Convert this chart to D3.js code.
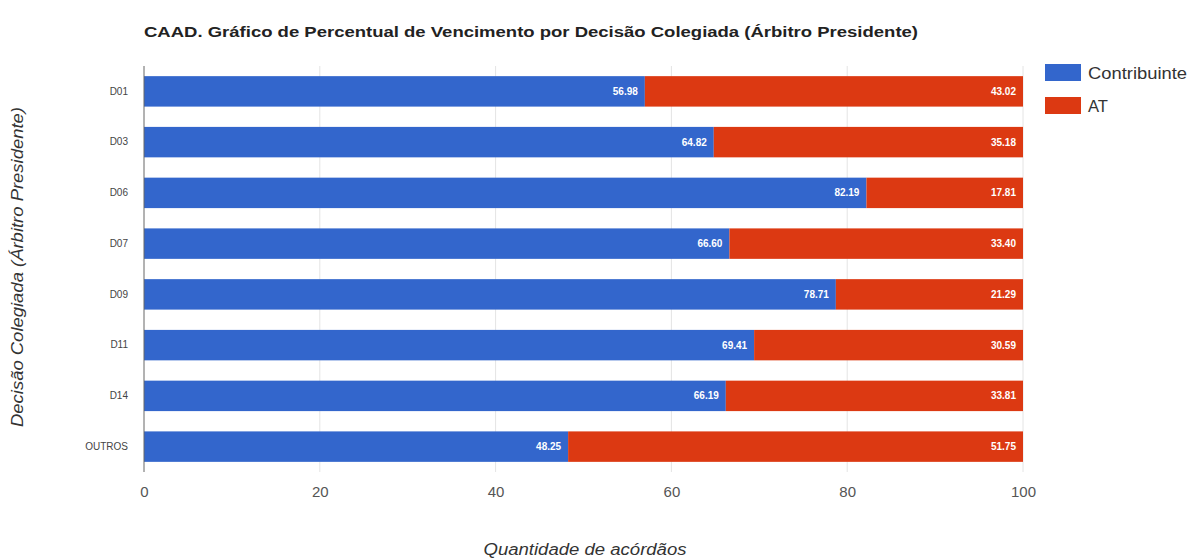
<!DOCTYPE html>
<html>
<head>
<meta charset="utf-8">
<script src="https://cdn.jsdelivr.net/npm/d3@7"></script>
<style>
  html, body { margin: 0; padding: 0; background: #fff; }
  svg { display: block; font-family: Arial, "Liberation Sans", sans-serif; }
</style>
</head>
<body>
<svg id="chart" width="1192" height="559"></svg>
<script>
// Decisão colegiada (árbitro presidente) categories
const categories = ["D01", "D03", "D06", "D07", "D09", "D11", "D14", "OUTROS"];
// Percentage of outcomes favourable to the taxpayer
const contribuinte = [56.98, 64.82, 82.19, 66.60, 78.71, 69.41, 66.19, 48.25];
// Percentage of outcomes favourable to the tax authority
const at = [43.02, 35.18, 17.81, 33.40, 21.29, 30.59, 33.81, 51.75];
const seriesNames = ["Contribuinte", "AT"];
const xTicks = [0, 20, 40, 60, 80, 100];

const colors = { "Contribuinte": "#3366cc", "AT": "#dc3912" };

const svg = d3.select("#chart");
const plotLeft = 144, plotRight = 1023, plotTop = 66, plotBottom = 472;

const x = d3.scaleLinear().domain([0, 100]).range([plotLeft, plotRight]);
const y = d3.scaleBand().domain(categories).range([plotTop, plotBottom]).paddingInner(0.4).paddingOuter(0.2);

// title (wide, condensed-looking text stretched to its line length)
svg.append("text")
  .attr("x", 144).attr("y", 37)
  .attr("font-size", 14).attr("font-weight", "bold").attr("fill", "#222")
  .attr("textLength", 774).attr("lengthAdjust", "spacingAndGlyphs")
  .text("CAAD. Gráfico de Percentual de Vencimento por Decisão Colegiada (Árbitro Presidente)");

// vertical gridlines
svg.append("g").selectAll("line")
  .data(xTicks.filter(t => t > 0))
  .join("line")
  .attr("x1", d => x(d)).attr("x2", d => x(d))
  .attr("y1", plotTop).attr("y2", plotBottom)
  .attr("stroke", "#e4e4e4").attr("stroke-width", 1);

// stacked data
const rows = categories.map((c, i) => ({ cat: c, Contribuinte: contribuinte[i], AT: at[i] }));
const stack = d3.stack().keys(seriesNames)(rows);

const layers = svg.append("g").selectAll("g")
  .data(stack)
  .join("g")
  .attr("fill", d => colors[d.key]);

layers.selectAll("rect")
  .data(d => d)
  .join("rect")
  .attr("x", d => x(d[0]))
  .attr("y", d => y(d.data.cat))
  .attr("width", d => x(d[1]) - x(d[0]))
  .attr("height", y.bandwidth());

// value labels, right-aligned at each segment end
layers.selectAll("text")
  .data(d => d.map(v => ({ v, key: d.key })))
  .join("text")
  .attr("x", d => x(d.v[1]) - 7)
  .attr("y", d => y(d.v.data.cat) + y.bandwidth() / 2)
  .attr("dy", "0.35em")
  .attr("text-anchor", "end")
  .attr("font-size", 10).attr("font-weight", "bold")
  .attr("fill", "#fff")
  .text(d => d.v.data[d.key].toFixed(2));

// baseline axis line
svg.append("line")
  .attr("x1", plotLeft).attr("x2", plotLeft)
  .attr("y1", plotTop).attr("y2", plotBottom)
  .attr("stroke", "#666").attr("stroke-width", 1);

// x axis tick labels
const xAxis = d3.axisBottom(x).tickValues(xTicks).tickSize(0).tickPadding(0);
const gx = svg.append("g").attr("transform", `translate(0,${plotBottom + 14})`).call(xAxis);
gx.select(".domain").remove();
gx.selectAll("text").attr("font-size", 15).attr("fill", "#555").attr("font-family", "Arial, 'Liberation Sans', sans-serif");

// y axis category labels
const yAxis = d3.axisLeft(y).tickSize(0).tickPadding(0);
const gy = svg.append("g").attr("transform", `translate(${plotLeft - 16},0)`).call(yAxis);
gy.select(".domain").remove();
gy.selectAll("text").attr("font-size", 10).attr("fill", "#444").attr("font-family", "Arial, 'Liberation Sans', sans-serif");

// axis titles
svg.append("text")
  .attr("x", 585).attr("y", 555)
  .attr("text-anchor", "middle")
  .attr("font-size", 16).attr("font-style", "italic").attr("fill", "#333")
  .attr("textLength", 203).attr("lengthAdjust", "spacingAndGlyphs")
  .text("Quantidade de acórdãos");

svg.append("text")
  .attr("transform", "translate(23,267) rotate(-90)")
  .attr("text-anchor", "middle")
  .attr("font-size", 16).attr("font-style", "italic").attr("fill", "#333")
  .attr("textLength", 320).attr("lengthAdjust", "spacingAndGlyphs")
  .text("Decisão Colegiada (Árbitro Presidente)");

// legend
const legend = svg.append("g").attr("transform", "translate(1045,64)");
const li = legend.selectAll("g").data(seriesNames).join("g")
  .attr("transform", (d, i) => `translate(0,${i * 33})`);
li.append("rect").attr("width", 36).attr("height", 17).attr("fill", d => colors[d]);
li.append("text").attr("x", 43).attr("y", 9).attr("dy", "0.35em")
  .attr("font-size", 16).attr("fill", "#333")
  .attr("textLength", d => d === "AT" ? 20 : 99).attr("lengthAdjust", "spacingAndGlyphs")
  .text(d => d);
</script>
</body>
</html>
